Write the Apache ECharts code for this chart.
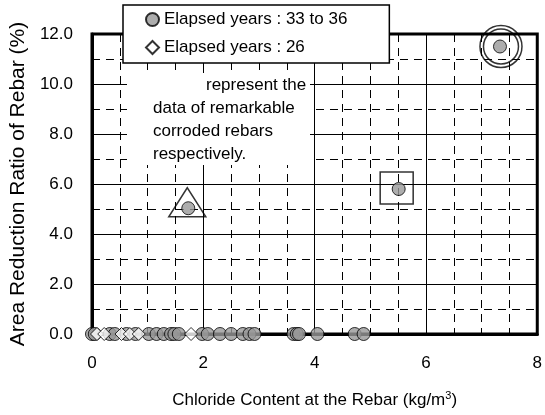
<!DOCTYPE html>
<html><head><meta charset="utf-8">
<script src="https://cdn.jsdelivr.net/npm/echarts@6/dist/echarts.min.js"></script>
<style>html,body{margin:0;padding:0;background:#fff}#c{width:545px;height:415px}</style>
</head><body><div id="c"></div>
<script>
// ---- data ----
const seriesNames = ['Elapsed years : 33 to 36', 'Elapsed years : 26'];
// Elapsed years 33 to 36 (gray circles)
const old33x = [0.0, 0.05, 0.32, 0.41, 0.62, 0.78, 1.02, 1.16, 1.29, 1.42, 1.48, 1.56, 1.98, 2.08, 2.30, 2.50, 2.71, 2.83, 2.92, 3.62, 3.68, 3.72, 4.05, 4.72, 4.88, 1.73, 5.51, 7.33];
const old33y = [0, 0, 0, 0, 0, 0, 0, 0, 0, 0, 0, 0, 0, 0, 0, 0, 0, 0, 0, 0, 0, 0, 0, 0, 0, 5.03, 5.8, 11.5];
// Elapsed years 26 (white diamonds)
const new26x = [0.09, 0.22, 0.53, 0.68, 0.84, 1.78];
const new26y = [0, 0, 0, 0, 0, 0];
// remarkable corroded rebars (triangle, square, double circle)
const remarkX = [1.73, 5.51, 7.33];
const remarkY = [5.03, 5.8, 11.5];
const xTickValues = [0, 2, 4, 6, 8];
const yTickValues = [0, 2, 4, 6, 8, 10, 12];
const noteLines = ['represent the', 'data of remarkable', 'corroded rebars', 'respectively.'];
const xTitle = 'Chloride Content at the Rebar (kg/m{sup|3})';
const yTitle = 'Area Reduction Ratio of Rebar (%)';

// ---- chart ----
const FONT = 'Liberation Sans, Arial, sans-serif';
const zip = (xs, ys) => xs.map((x, i) => [x, ys[i]]);
const chart = echarts.init(document.getElementById('c'), null, {renderer: 'canvas'});
const emptyStyle = {color: 'rgba(0,0,0,0)', borderColor: '#000', borderWidth: 1.5};
const option = {
  animation: false,
  textStyle: {fontFamily: FONT},
  grid: {left: 90, right: 2, top: 34, bottom: 81, show: true, borderColor: '#000', borderWidth: 3, backgroundColor: 'transparent'},
  legend: {
    data: seriesNames, orient: 'vertical', left: 123, top: 5,
    padding: [6, 42, 7, 22], itemGap: 11, itemWidth: 13, itemHeight: 13,
    backgroundColor: '#fff', borderColor: '#000', borderWidth: 1.5,
    textStyle: {fontSize: 17, color: '#000', fontFamily: FONT},
    selectedMode: false, z: 10
  },
  xAxis: {
    type: 'value', min: xTickValues[0], max: xTickValues[xTickValues.length - 1], interval: 2,
    name: xTitle, nameLocation: 'middle', nameGap: 56,
    nameTextStyle: {fontSize: 17, color: '#000', fontFamily: FONT, rich: {sup: {fontSize: 11, padding: [0, 0, 9, 0], fontFamily: FONT, color: '#000'}}},
    axisLine: {show: true, lineStyle: {color: '#000', width: 3}},
    axisTick: {show: false},
    axisLabel: {fontSize: 17, color: '#000', margin: 21, fontFamily: FONT},
    splitLine: {show: true, lineStyle: {color: '#000', width: 1}},
    minorTick: {show: false, splitNumber: 4},
    minorSplitLine: {show: true, lineStyle: {color: '#000', width: 1, type: [8, 6]}}
  },
  yAxis: {
    type: 'value', min: yTickValues[0], max: yTickValues[yTickValues.length - 1], interval: 2,
    name: yTitle, nameLocation: 'middle', nameGap: 60,
    nameTextStyle: {fontSize: 21, color: '#000', fontFamily: FONT},
    axisLine: {show: true, lineStyle: {color: '#000', width: 3}},
    axisTick: {show: false},
    axisLabel: {fontSize: 17, color: '#000', margin: 19, fontFamily: FONT, formatter: v => v.toFixed(1)},
    splitLine: {show: true, lineStyle: {color: '#000', width: 1}},
    minorTick: {show: false, splitNumber: 2},
    minorSplitLine: {show: true, lineStyle: {color: '#000', width: 1, type: [8, 6]}}
  },
  graphic: [
    {type: 'rect', left: 127, top: 73, shape: {width: 183, height: 92}, style: {fill: '#fff'}, z: 5, silent: true},
    ...noteLines.map((t, i) => ({
      type: 'text', left: i === 0 ? 206 : 153, top: 77 + i * 22.8, z: 6, silent: true,
      style: {text: t, font: '17px ' + FONT, fill: '#000'}
    }))
  ],
  series: [
    {type: 'scatter', silent: true, symbol: 'triangle', symbolSize: [37, 29], symbolOffset: [-1, -6],
     itemStyle: emptyStyle, data: zip(remarkX.slice(0, 1), remarkY.slice(0, 1)), z: 2},
    {type: 'scatter', silent: true, symbol: 'rect', symbolSize: [33, 32], symbolOffset: [-2, -1],
     itemStyle: emptyStyle, data: zip(remarkX.slice(1, 2), remarkY.slice(1, 2)), z: 2},
    {type: 'scatter', silent: true, symbol: 'circle', symbolSize: 42, symbolOffset: [1, 0],
     itemStyle: emptyStyle, data: zip(remarkX.slice(2, 3), remarkY.slice(2, 3)), z: 2},
    {type: 'scatter', silent: true, symbol: 'circle', symbolSize: 35, symbolOffset: [1, 0],
     itemStyle: emptyStyle, data: zip(remarkX.slice(2, 3), remarkY.slice(2, 3)), z: 2},
    {name: seriesNames[0], type: 'scatter', silent: true, symbol: 'circle', symbolSize: 13,
     itemStyle: {color: '#999999', borderColor: '#000', borderWidth: 1}, data: zip(old33x, old33y), z: 3},
    {name: seriesNames[1], type: 'scatter', silent: true, symbol: 'diamond', symbolSize: 13,
     itemStyle: {color: '#fff', borderColor: '#000', borderWidth: 1}, data: zip(new26x, new26y), z: 4}
  ]
};
chart.setOption(option);
</script>
</body></html>
